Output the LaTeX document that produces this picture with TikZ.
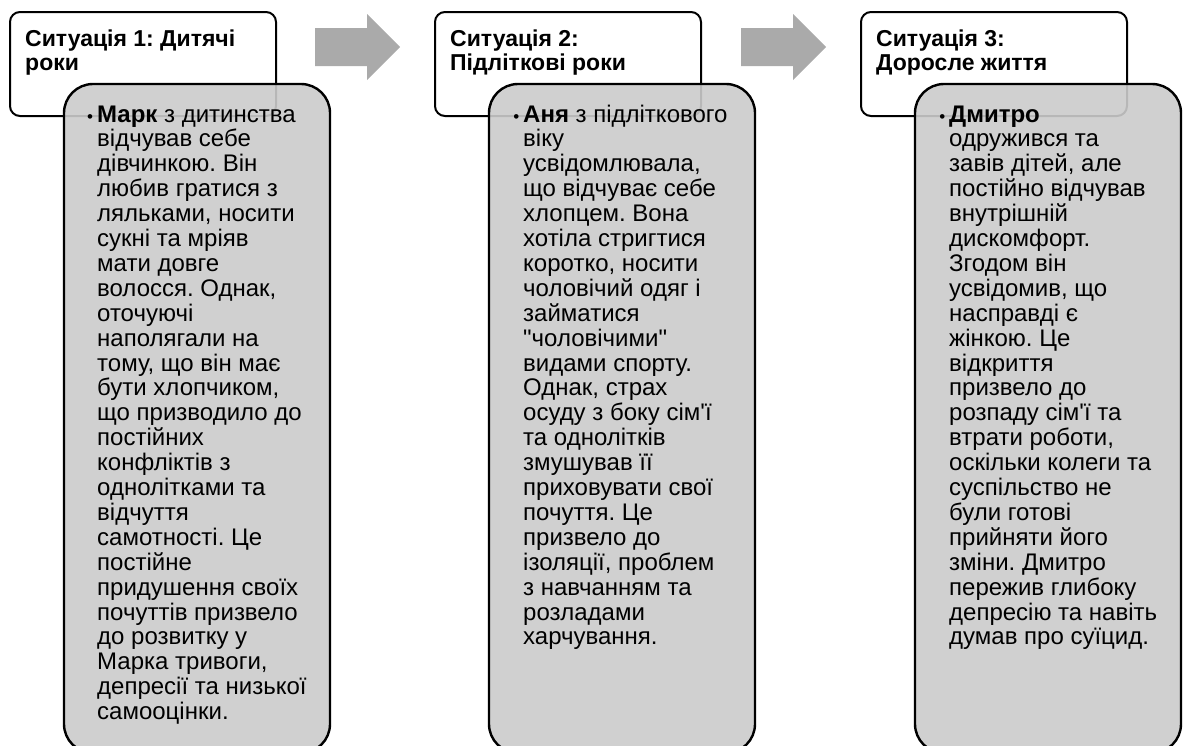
\documentclass[tikz,border=0pt]{standalone}
\usepackage{fontspec}
\setmainfont{Liberation Sans}
\newfontfamily\plainsans{Liberation Sans}
\frenchspacing
\definecolor{boxgray}{RGB}{203,203,203}
\definecolor{arrowgray}{RGB}{170,170,170}
\tikzset{
  titlebox/.style={draw=black, line width=2pt, fill=white, rounded corners=10pt},
  graybox/.style={draw=black, line width=2.4pt, fill=boxgray, fill opacity=0.9, rounded corners=29pt},
  bigarrow/.style={fill=arrowgray, draw=none},
  bodytext/.style={anchor=base west, inner sep=0pt},
}
\newcommand{\bodypar}[1]{\parbox[t]{270pt}{\frenchspacing\plainsans\fontsize{24}{24.9}\selectfont\raggedright #1}}
\newcommand{\titlepar}[1]{\parbox[t]{250pt}{\frenchspacing\bfseries\fontsize{23}{24}\selectfont\raggedright #1}}
\newcommand{\bul}{\leavevmode\llap{\fontsize{17}{17}\selectfont\textbullet\hspace{4pt}}}
\begin{document}
\begin{tikzpicture}[x=1pt,y=-1pt]
\useasboundingbox (0,0) rectangle (1184,745);
\begin{scope}
\clip (0,0) rectangle (1184,745);
% column 1
\path[titlebox] (10,12) rectangle (276,116);
\node[bodytext] (t1) at (25,46) {\titlepar{Ситуація 1: Дитячі\\роки}};
\path[graybox] (64,84) rectangle (330,753);
\node[bodytext] (b1) at (97,122) {\bodypar{\bul\textbf{Марк} з дитинства\\
відчував себе\\
дівчинкою. Він\\
любив гратися з\\
ляльками, носити\\
сукні та мріяв\\
мати довге\\
волосся. Однак,\\
оточуючі\\
наполягали на\\
тому, що він має\\
бути хлопчиком,\\
що призводило до\\
постійних\\
конфліктів з\\
однолітками та\\
відчуття\\
самотності. Це\\
постійне\\
придушення своїх\\
почуттів призвело\\
до розвитку у\\
Марка тривоги,\\
депресії та низької\\
самооцінки.}};
% arrow 1
\path[bigarrow] (315,28) -- (367,28) -- (367,14) -- (400,47) -- (367,80) -- (367,66) -- (315,66) -- cycle;
% column 2
\path[titlebox] (435,12) rectangle (701,116);
\node[bodytext] (t2) at (450,46) {\titlepar{Ситуація 2:\\Підліткові роки}};
\path[graybox] (489,84) rectangle (755,753);
\node[bodytext] (b2) at (523,122) {\bodypar{\bul\textbf{Аня} з підліткового\\
віку\\
усвідомлювала,\\
що відчуває себе\\
хлопцем. Вона\\
хотіла стригтися\\
коротко, носити\\
чоловічий одяг і\\
займатися\\
"чоловічими"\\
видами спорту.\\
Однак, страх\\
осуду з боку сім{\char39}ї\\
та однолітків\\
змушував її\\
приховувати свої\\
почуття. Це\\
призвело до\\
ізоляції, проблем\\
з навчанням та\\
розладами\\
харчування.}};
% arrow 2
\path[bigarrow] (741,28) -- (793,28) -- (793,14) -- (826,47) -- (793,80) -- (793,66) -- (741,66) -- cycle;
% column 3
\path[titlebox] (861,12) rectangle (1127,116);
\node[bodytext] (t3) at (876,46) {\titlepar{Ситуація 3:\\Доросле життя}};
\path[graybox] (915,84) rectangle (1181,753);
\node[bodytext] (b3) at (949,122) {\bodypar{\bul\textbf{Дмитро}\\
одружився та\\
завів дітей, але\\
постійно відчував\\
внутрішній\\
дискомфорт.\\
Згодом він\\
усвідомив, що\\
насправді є\\
жінкою. Це\\
відкриття\\
призвело до\\
розпаду сім{\char39}ї та\\
втрати роботи,\\
оскільки колеги та\\
суспільство не\\
були готові\\
прийняти його\\
зміни. Дмитро\\
пережив глибоку\\
депресію та навіть\\
думав про суїцид.}};
\end{scope}
\end{tikzpicture}
\end{document}
